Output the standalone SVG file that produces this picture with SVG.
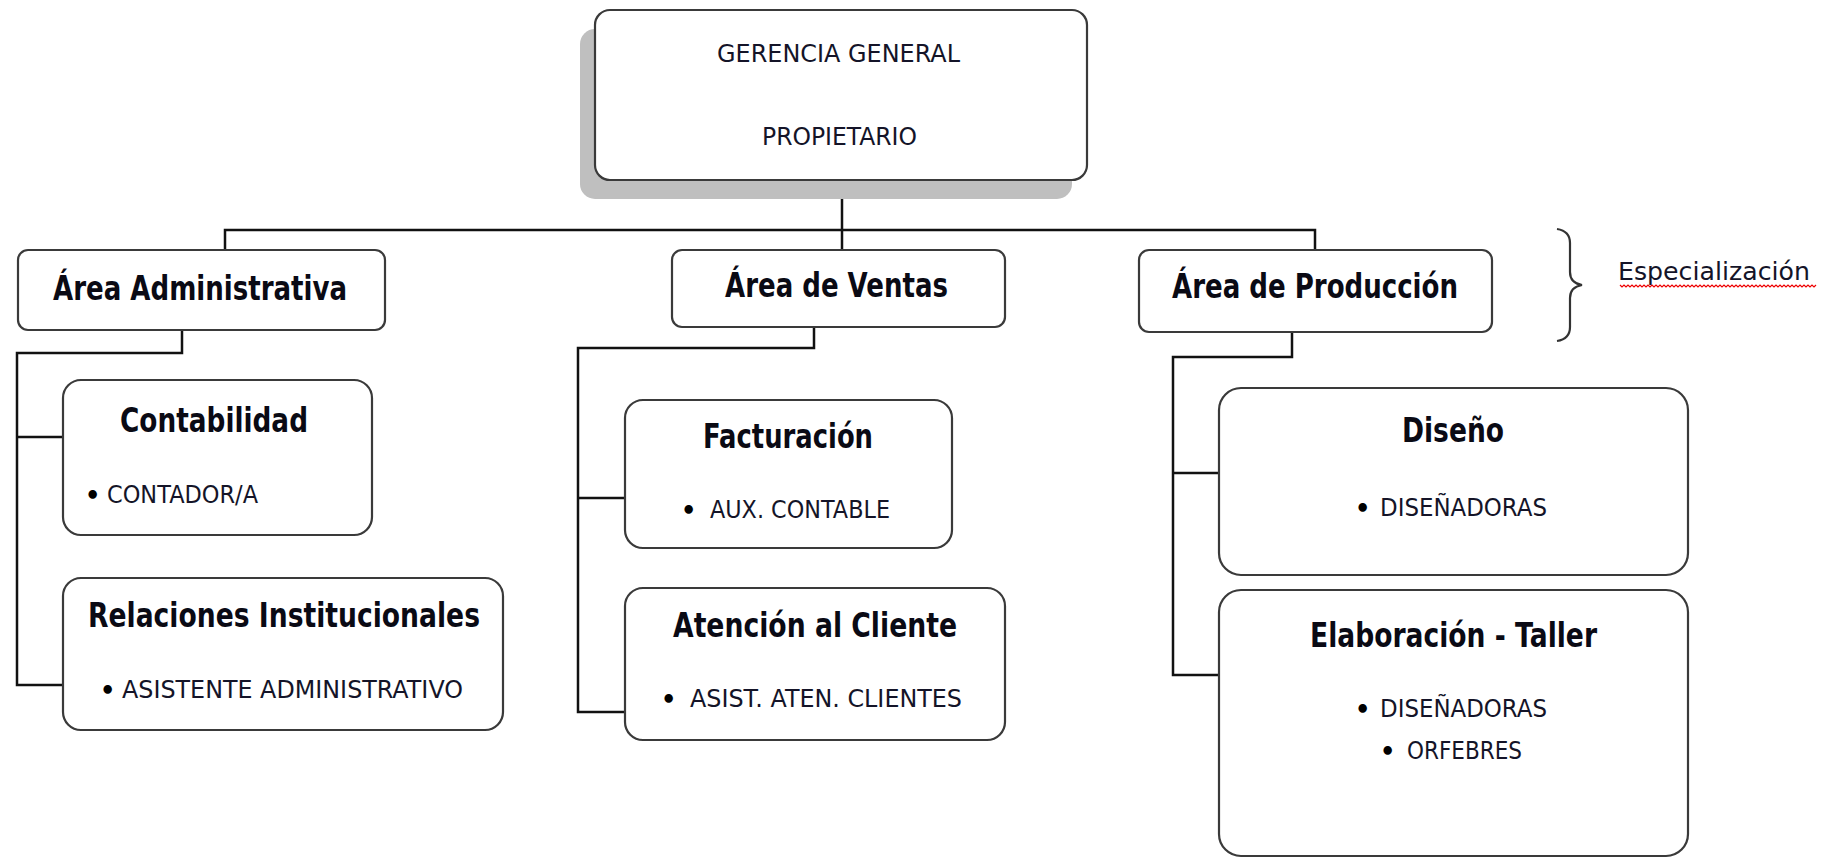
<svg xmlns="http://www.w3.org/2000/svg" width="1830" height="859" viewBox="0 0 1830 859">
<style>
.box{fill:#fff;stroke:#3a3a3a;stroke-width:2.2}
.con{fill:none;stroke:#111;stroke-width:2.5}
.h{font-family:"DejaVu Sans","Liberation Sans",sans-serif;font-weight:bold;font-size:34px;fill:#0a0a14}
.s{font-family:"DejaVu Sans","Liberation Sans",sans-serif;font-size:25px;fill:#141428}
.b{font-family:"DejaVu Sans","Liberation Sans",sans-serif;font-size:24px;font-weight:bold;fill:#000}
</style>
<rect width="1830" height="859" fill="#fff"/>
<g id="connectors">
<path class="con" d="M225,250 V230 H1315 V250 M842,180 V250"/>
<path class="con" d="M182,330 V353 H17 V685 H63 M17,437 H63"/>
<path class="con" d="M814,327 V348 H578 V712 H625 M578,498 H625"/>
<path class="con" d="M1292,332 V357 H1173 V675 H1219 M1173,473 H1219"/>
</g>
<g id="gerencia">
<rect x="580" y="29" width="492" height="170" rx="15" fill="#bfbfbf"/>
<rect class="box" x="595" y="10" width="492" height="170" rx="15"/>
<text class="s" x="717" y="62" font-size="33" textLength="243" lengthAdjust="spacingAndGlyphs">GERENCIA GENERAL</text>
<text class="s" x="762" y="145" textLength="155" lengthAdjust="spacingAndGlyphs">PROPIETARIO</text>
</g>
<g id="area-admin">
<rect class="box" x="18" y="250" width="367" height="80" rx="10"/>
<text class="h" x="53" y="300" textLength="294" lengthAdjust="spacingAndGlyphs">Área Administrativa</text>
</g>
<g id="area-ventas">
<rect class="box" x="672" y="250" width="333" height="77" rx="10"/>
<text class="h" x="725" y="297" textLength="223" lengthAdjust="spacingAndGlyphs">Área de Ventas</text>
</g>
<g id="area-produccion">
<rect class="box" x="1139" y="250" width="353" height="82" rx="10"/>
<text class="h" x="1172" y="298" textLength="286" lengthAdjust="spacingAndGlyphs">Área de Producción</text>
</g>
<g id="especializacion">
<path d="M1557,229 Q1570,231 1570,243 V272 Q1570,283 1582,285 Q1570,287 1570,298 V327 Q1570,339 1557,341" fill="none" stroke="#333" stroke-width="2.2"/>
<text class="s" x="1618" y="280" font-size="34" textLength="192" lengthAdjust="spacingAndGlyphs">Especialización</text>
<path d="M1620,285 l2,2 l2,-2 l2,2 l2,-2 l2,2 l2,-2 l2,2 l2,-2 l2,2 l2,-2 l2,2 l2,-2 l2,2 l2,-2 l2,2 l2,-2 l2,2 l2,-2 l2,2 l2,-2 l2,2 l2,-2 l2,2 l2,-2 l2,2 l2,-2 l2,2 l2,-2 l2,2 l2,-2 l2,2 l2,-2 l2,2 l2,-2 l2,2 l2,-2 l2,2 l2,-2 l2,2 l2,-2 l2,2 l2,-2 l2,2 l2,-2 l2,2 l2,-2 l2,2 l2,-2 l2,2 l2,-2 l2,2 l2,-2 l2,2 l2,-2 l2,2 l2,-2 l2,2 l2,-2 l2,2 l2,-2 l2,2 l2,-2 l2,2 l2,-2 l2,2 l2,-2 l2,2 l2,-2 l2,2 l2,-2 l2,2 l2,-2 l2,2 l2,-2 l2,2 l2,-2 l2,2 l2,-2 l2,2 l2,-2 l2,2 l2,-2 l2,2 l2,-2 l2,2 l2,-2 l2,2 l2,-2 l2,2 l2,-2 l2,2 l2,-2 l2,2 l2,-2 l2,2 l2,-2 l2,2 l2,-2" fill="none" stroke="#e00" stroke-width="1.2"/>
</g>
<g id="contabilidad">
<rect class="box" x="63" y="380" width="309" height="155" rx="18"/>
<text class="h" x="120" y="432" textLength="188" lengthAdjust="spacingAndGlyphs">Contabilidad</text>
<text class="b" x="85" y="504">•</text>
<text class="s" x="107" y="503" textLength="151" lengthAdjust="spacingAndGlyphs">CONTADOR/A</text>
</g>
<g id="relaciones">
<rect class="box" x="63" y="578" width="440" height="152" rx="18"/>
<text class="h" x="88" y="627" textLength="392" lengthAdjust="spacingAndGlyphs">Relaciones Institucionales</text>
<text class="b" x="100" y="699">•</text>
<text class="s" x="122" y="698" textLength="341" lengthAdjust="spacingAndGlyphs">ASISTENTE ADMINISTRATIVO</text>
</g>
<g id="facturacion">
<rect class="box" x="625" y="400" width="327" height="148" rx="18"/>
<text class="h" x="703" y="448" textLength="170" lengthAdjust="spacingAndGlyphs">Facturación</text>
<text class="b" x="681" y="519">•</text>
<text class="s" x="710" y="518" textLength="180" lengthAdjust="spacingAndGlyphs">AUX. CONTABLE</text>
</g>
<g id="atencion">
<rect class="box" x="625" y="588" width="380" height="152" rx="18"/>
<text class="h" x="673" y="637" textLength="284" lengthAdjust="spacingAndGlyphs">Atención al Cliente</text>
<text class="b" x="661" y="708">•</text>
<text class="s" x="690" y="707" textLength="272" lengthAdjust="spacingAndGlyphs">ASIST. ATEN. CLIENTES</text>
</g>
<g id="diseno">
<rect class="box" x="1219" y="388" width="469" height="187" rx="22"/>
<text class="h" x="1402" y="442" textLength="102" lengthAdjust="spacingAndGlyphs">Diseño</text>
<text class="b" x="1355" y="517">•</text>
<text class="s" x="1380" y="516" textLength="167" lengthAdjust="spacingAndGlyphs">DISEÑADORAS</text>
</g>
<g id="elaboracion">
<rect class="box" x="1219" y="590" width="469" height="266" rx="22"/>
<text class="h" x="1310" y="647" textLength="287" lengthAdjust="spacingAndGlyphs">Elaboración - Taller</text>
<text class="b" x="1355" y="718">•</text>
<text class="s" x="1380" y="717" textLength="167" lengthAdjust="spacingAndGlyphs">DISEÑADORAS</text>
<text class="b" x="1380" y="760">•</text>
<text class="s" x="1407" y="759" textLength="115" lengthAdjust="spacingAndGlyphs">ORFEBRES</text>
</g>
</svg>
